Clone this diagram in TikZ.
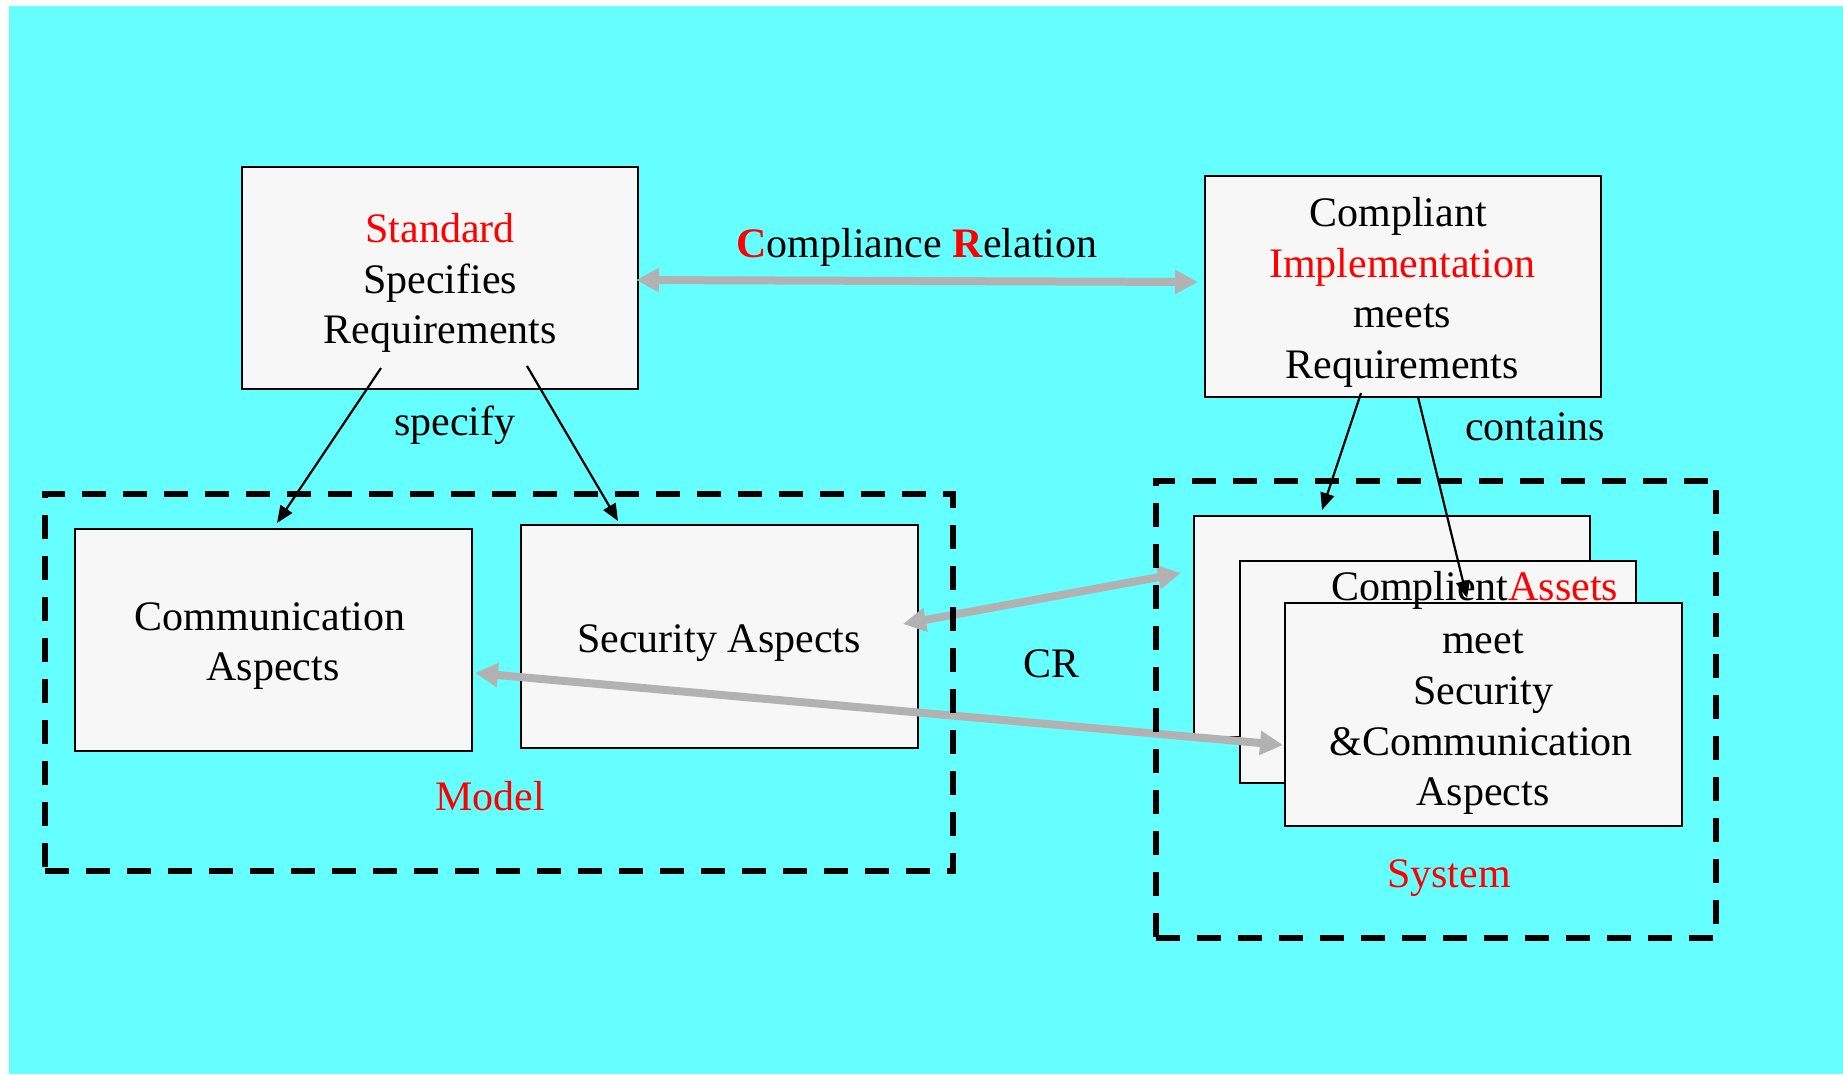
\documentclass[tikz,border=0pt]{standalone}
\usepackage{fontspec}
\setmainfont{Liberation Serif}
\usetikzlibrary{arrows.meta}
\definecolor{bgcyan}{HTML}{66FFFF}
\definecolor{boxfill}{HTML}{F7F7F7}
\definecolor{relgray}{HTML}{B2B2B2}
\definecolor{txtred}{HTML}{FF0000}

\begin{document}
\begin{tikzpicture}[x=1pt,y=-1pt,
  panel/.style={draw=black, line width=2.5pt, fill=boxfill, anchor=north west,
                inner sep=0pt, outer sep=0pt},
  frame/.style={draw=black, line width=5.5pt, dash pattern=on 24pt off 17pt,
                anchor=north west, inner sep=0pt, outer sep=0pt},
  txt/.style={anchor=base, inner sep=0pt, font=\fontsize{42}{50}\selectfont},
  link/.style={draw=black, line width=2.2pt, -{Triangle[length=17pt,width=14pt]}},
  rel/.style={draw=relgray, line width=8pt,
              {Triangle[length=23pt,width=23pt]}-{Triangle[length=23pt,width=23pt]}},
]
% page and background
\useasboundingbox (0,0) rectangle (1843,1074);
\fill[white] (0,0) rectangle (1843,1074);
\fill[bgcyan] (9,6) rectangle (1843,1074);

% boxes
\node[panel, minimum width=396pt, minimum height=222pt] (std)  at (242,167) {};
\node[panel, minimum width=396pt, minimum height=221pt] (impl) at (1205,176) {};
\node[panel, minimum width=397pt, minimum height=222pt] (comm) at (75,529) {};
\node[panel, minimum width=397pt, minimum height=223pt] (sec)  at (521,525) {};
\node[panel, minimum width=396pt, minimum height=221pt] (assetA) at (1194,516) {};
\node[panel, minimum width=396pt, minimum height=222pt] (assetB) at (1240,561) {};
\node[panel, minimum width=397pt, minimum height=223pt] (assetC) at (1285,603) {};

% connector end points
\coordinate (stdL)  at (381,368);
\coordinate (stdR)  at (527,366);
\coordinate (commT) at (277,523);
\coordinate (secT)  at (618,521);
\coordinate (implL) at (1361,393);
\coordinate (implR) at (1418,397);
\coordinate (assetT) at (1322,510);
\coordinate (assetI) at (1467,598);
\coordinate (crL)  at (636,280);
\coordinate (crR)  at (1198,282);
\coordinate (secE) at (903,624);
\coordinate (assetAW) at (1181,573);
\coordinate (commE) at (475,673);
\coordinate (assetCW) at (1283,745);

% compliance relations
\draw[rel] (crL) -- (crR);
\draw[rel] (secE) -- (assetAW);
\draw[rel] (commE) -- (assetCW);

% dashed groups
\node[frame, minimum width=908pt, minimum height=377pt] (model)  at (45,494) {};
\node[frame, minimum width=560pt, minimum height=457pt] (system) at (1156,481) {};

% texts
\node[txt, text=txtred] (t1) at (440,242) {Standard};
\node[txt] (t2) at (440,293) {Specifies};
\node[txt] (t3) at (440,343) {Requirements};

\node[txt] (t4) at (1398,226) {Compliant};
\node[txt, text=txtred] (t5) at (1402,277) {Implementation};
\node[txt] (t6) at (1402,327) {meets};
\node[txt] (t7) at (1402,378) {Requirements};

\node[txt] (t8) at (917,257) {\textcolor{txtred}{\textbf{C}}ompliance \textcolor{txtred}{\textbf{R}}elation};
\node[txt] (t9) at (455,435) {specify};
\node[txt] (t10) at (1535,440) {contains};
\node[txt] (t11) at (1051,677) {CR};

\node[txt] (t12) at (270,630) {Communication};
\node[txt] (t13) at (273,680) {Aspects};
\node[txt] (t14) at (719,652) {Security Aspects};

\node[txt, text=txtred] (t15) at (490,810) {Model};
\node[txt, text=txtred] (t16) at (1449,887) {System};

\node[txt, anchor=base west] (t17) at (1331,600) {Complient\textcolor{txtred}{Assets}};
\node[txt] (t18) at (1483,653) {meet};
\node[txt] (t19) at (1483,704) {Security};
\node[txt] (t20) at (1481,755) {\&Communication};
\node[txt] (t21) at (1483,805) {Aspects};

% specify / contains links
\draw[link] (stdL) -- (commT);
\draw[link] (stdR) -- (secT);
\draw[link] (implL) -- (assetT);
\draw[link] (implR) -- (assetI);
\end{tikzpicture}
\end{document}
